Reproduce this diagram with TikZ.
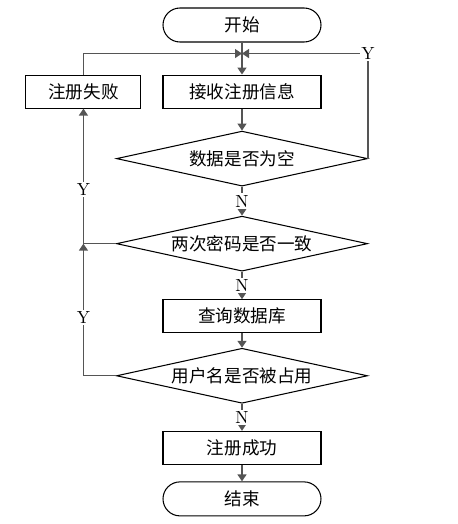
\documentclass[tikz,border=0pt]{standalone}
\usepackage{fontspec}
\newfontfamily\cjk{Noto Sans CJK SC}
\usepackage{tikz}
\usetikzlibrary{positioning,arrows.meta,shapes.geometric}
\newcommand{\flowfont}{\cjk\fontsize{10}{12}\selectfont}
\definecolor{linegray}{RGB}{85,85,85}

\begin{document}
\begin{tikzpicture}[
        node distance=0.44cm and 0.42cm,
        terminal/.style={rectangle, rounded corners=3.4mm, draw, line width=0.6pt,
                         minimum width=3.16cm, minimum height=0.68cm, font=\flowfont},
        process/.style={rectangle, draw, line width=0.6pt,
                        minimum width=3.16cm, minimum height=0.66cm, font=\flowfont},
        decision/.style={diamond, draw, line width=0.6pt, aspect=4.5, inner sep=0pt,
                         minimum width=5.02cm, minimum height=1.1cm, font=\flowfont},
        arrow/.style={-{Triangle[length=1.4mm, width=1.8mm]}, draw=linegray, line width=0.8pt},
        yn/.style={fill=white, inner sep=1pt, font=\normalsize}
    ]
        \useasboundingbox (0,0) rectangle (9.14,-10.48);

        % 主流程
        \node[terminal] (start) at (4.84,-0.5) {开始};
        \coordinate[below=0.22cm of start] (merge);
        \node[process, below=0.64cm of start] (recv) {接收注册信息};
        \node[process, minimum width=2.3cm, left=of recv] (fail) {注册失败};
        \node[decision, below=of recv] (empty) {数据是否为空};
        \node[decision, below=0.58cm of empty] (pwd) {两次密码是否一致};
        \node[process, below=0.55cm of pwd] (query) {查询数据库};
        \node[decision, below=0.29cm of query] (used) {用户名是否被占用};
        \node[process, below=0.54cm of used] (succ) {注册成功};
        \node[terminal, below=0.33cm of succ] (end) {结束};

        % 箭头连接
        \draw[arrow] (start) -- (recv);
        \draw[arrow] (recv) -- (empty);
        \draw[arrow] (empty) -- node[yn] {N} (pwd);
        \draw[arrow] (pwd) -- node[yn] {N} (query);
        \draw[arrow] (query) -- (used);
        \draw[arrow] (used) -- node[yn] {N} (succ);
        \draw[arrow] (succ) -- (end);

        % 返回分支
        \draw[arrow] (fail.north) |- (merge);
        \draw[arrow] (empty.east) |- node[yn, pos=0.5] {Y} (merge);
        \draw[arrow] (pwd.west) -| node[yn, pos=0.7] {Y} (fail.south);
        \draw[arrow] (used.west) -| node[yn, pos=0.72] {Y} (fail.south |- pwd.west);
    \end{tikzpicture}
\end{document}
